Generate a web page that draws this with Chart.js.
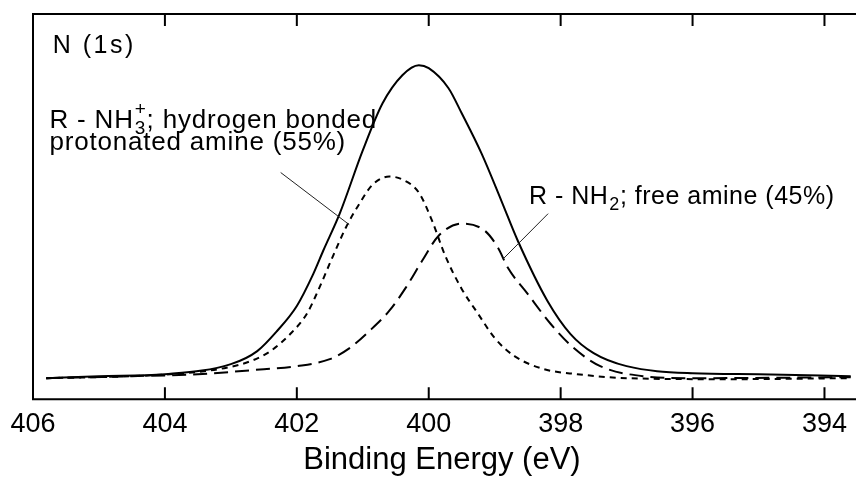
<!DOCTYPE html>
<html>
<head>
<meta charset="utf-8">
<script src="https://cdn.jsdelivr.net/npm/chart.js@4.4.0/dist/chart.umd.min.js"></script>
<style>
  html, body { margin: 0; padding: 0; background: #fff; overflow: hidden; }
  canvas { display: block; }
</style>
</head>
<body>
<canvas id="xpsChart" width="856" height="493"></canvas>
<script>
const tickValues = [406, 404, 402, 400, 398, 396, 394];

// measured envelope, N (1s)
const totalEnergy = [405.8, 405.0, 404.0, 403.0, 402.6, 402.3, 402.0, 401.75, 401.6, 401.35, 401.0, 400.7, 400.4, 400.15, 400.0, 399.7, 399.5, 399.2, 398.9, 398.65, 398.2, 397.85, 397.5, 397.0, 396.0, 395.0, 393.6];
const totalCounts = [21, 23, 25, 35, 48, 68, 93, 125, 148, 185, 248, 295, 323, 333, 330, 310, 285, 245, 198, 158, 98, 65, 46, 33, 26, 25, 23];

// R-NH3+ component
const protonatedEnergy = [405.8, 404.5, 403.7, 403.1, 402.7, 402.4, 402.1, 401.85, 401.7, 401.45, 401.25, 401.05, 400.85, 400.6, 400.4, 400.15, 399.95, 399.75, 399.5, 399.25, 399.0, 398.7, 398.25, 397.75, 397.0, 395.5, 393.6];
const protonatedCounts = [21, 23, 26, 31, 38, 48, 65, 85, 105, 143, 172, 195, 214, 222, 219, 206, 178, 143, 110, 85, 61, 43, 30, 25, 21, 20, 21];

// R-NH2 component
const freeEnergy = [405.8, 404.5, 403.5, 402.5, 402.0, 401.5, 401.2, 400.9, 400.6, 400.35, 400.1, 399.85, 399.5, 399.15, 398.95, 398.8, 398.5, 398.15, 397.8, 397.4, 396.75, 396.0, 393.6];
const freeCounts = [21, 23, 25, 30, 33, 40, 51, 68, 88, 111, 138, 163, 175, 168, 151, 131, 105, 75, 51, 33, 23, 21, 22];

const toPoints = (xs, ys) => xs.map((x, i) => ({ x: x, y: ys[i] }));

const fontFamily = '"Liberation Sans", Arial, Helvetica, sans-serif';

// text notes, anchored in data units (eV, counts)
const notes = [
    { e: 405.70, c: 345, size: 25, spacing: 2.5, lines: [[{ t: "N (1s)" }]] },
    {
        e: 405.75, c: 270, size: 26, spacing: 0.8,
        lines: [
            [{ t: "R - NH" }, { sup: "+", sub: "3" }, { t: "; hydrogen bonded" }],
            [{ t: "protonated amine (55%)" }],
        ],
    },
    { e: 398.48, c: 195, size: 25, spacing: 0.5, lines: [[{ t: "R - NH" }, { sub: "2" }, { t: "; free amine (45%)" }]] },
];

const leaders = [
    { from: [402.245, 226], to: [401.205, 174] },
    { from: [398.19, 185], to: [398.87, 140] },
];

function drawLine(ctx, parts, x, y, size, spacing) {
    ctx.letterSpacing = spacing + "px";
    parts.forEach((p) => {
        if (p.t) {
            ctx.font = size + "px " + fontFamily;
            ctx.fillText(p.t, x, y);
            x += ctx.measureText(p.t).width;
        } else {
            const small = Math.round(size * 0.72);
            ctx.font = small + "px " + fontFamily;
            let w = 0;
            if (p.sub) {
                ctx.fillText(p.sub, x + 1, y + 6);
                w = Math.max(w, ctx.measureText(p.sub).width);
            }
            if (p.sup) {
                ctx.fillText(p.sup, x + 1, y - 13);
                w = Math.max(w, ctx.measureText(p.sup).width);
            }
            x += w + 1;
        }
    });
}

const framePlugin = {
    id: "frame",
    afterDraw(chart) {
        const { ctx, chartArea } = chart;
        const xs = chart.scales.x;
        const ys = chart.scales.y;
        ctx.save();

        // frame and inward ticks
        ctx.strokeStyle = "#000";
        ctx.lineWidth = 2;
        ctx.beginPath();
        ctx.moveTo(chart.width + 4, chartArea.top);
        ctx.lineTo(chartArea.left, chartArea.top);
        ctx.lineTo(chartArea.left, chartArea.bottom);
        ctx.lineTo(chart.width + 4, chartArea.bottom);
        tickValues.forEach((v) => {
            const px = xs.getPixelForValue(v);
            ctx.moveTo(px, chartArea.top);
            ctx.lineTo(px, chartArea.top + 12);
            ctx.moveTo(px, chartArea.bottom);
            ctx.lineTo(px, chartArea.bottom - 12);
        });
        ctx.stroke();

        // leader lines
        ctx.strokeStyle = "#222";
        ctx.lineWidth = 1;
        leaders.forEach((l) => {
            ctx.beginPath();
            ctx.moveTo(xs.getPixelForValue(l.from[0]), ys.getPixelForValue(l.from[1]));
            ctx.lineTo(xs.getPixelForValue(l.to[0]), ys.getPixelForValue(l.to[1]));
            ctx.stroke();
        });

        // notes
        ctx.fillStyle = "#000";
        ctx.textBaseline = "alphabetic";
        ctx.textAlign = "left";
        notes.forEach((n) => {
            const x0 = xs.getPixelForValue(n.e);
            const y0 = ys.getPixelForValue(n.c);
            n.lines.forEach((line, i) => {
                drawLine(ctx, line, x0, y0 + i * 22, n.size, n.spacing);
            });
        });
        ctx.restore();
    },
};

const data = {
    datasets: [
        {
            label: "Envelope",
            data: toPoints(totalEnergy, totalCounts),
            borderColor: "#000",
            borderWidth: 2,
        },
        {
            label: "R-NH3+ (55%)",
            data: toPoints(protonatedEnergy, protonatedCounts),
            borderColor: "#000",
            borderWidth: 2,
            borderDash: [6, 5],
        },
        {
            label: "R-NH2 (45%)",
            data: toPoints(freeEnergy, freeCounts),
            borderColor: "#000",
            borderWidth: 2,
            borderDash: [14, 7],
        },
    ],
};

const xpsChart = new Chart("xpsChart", {
    type: "line",
    data: data,
    options: {
        responsive: false,
        animation: false,
        devicePixelRatio: 1,
        events: [],
        layout: { padding: { left: 33, top: 14, right: 0, bottom: 0 } },
        elements: {
            point: { radius: 0 },
            line: { tension: 0.4, cubicInterpolationMode: "monotone", fill: false },
        },
        plugins: {
            legend: { display: false },
            tooltip: { enabled: false },
        },
        scales: {
            x: {
                type: "linear",
                reverse: true,
                min: 393.6,
                max: 406,
                grid: { display: false, drawTicks: false },
                border: { display: false },
                afterBuildTicks: (scale) => {
                    scale.ticks = tickValues.map((v) => ({ value: v }));
                },
                ticks: {
                    padding: 9,
                    color: "#000",
                    maxRotation: 0,
                    font: { family: fontFamily, size: 27 },
                },
                title: {
                    display: true,
                    text: "Binding Energy (eV)",
                    color: "#000",
                    font: { family: fontFamily, size: 31, lineHeight: 0.85 },
                    padding: { top: -2, bottom: 19 },
                },
            },
            y: {
                display: false,
                min: 0,
                max: 384,
            },
        },
    },
    plugins: [framePlugin],
});
</script>
</body>
</html>
